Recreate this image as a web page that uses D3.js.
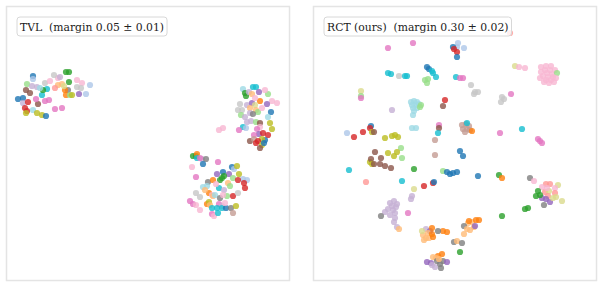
<!DOCTYPE html>
<html>
<head>
<meta charset="utf-8">
<script src="https://cdn.jsdelivr.net/npm/d3@7"></script>
<style>
	body { margin: 0; background: #fff; }
	svg { display: block; }
</style>
</head>
<body>
<svg id="viz-svg" width="602" height="287"></svg>
<script>
// tab20 class colours, points reference them by index
const classColors = [
	'#1f77b4','#aec7e8','#ff7f0e','#ffbb78','#2ca02c','#98df8a','#d62728','#ff9896','#9467bd','#c5b0d5',
	'#8c564b','#c49c94','#e377c2','#f7b6d2','#7f7f7f','#c7c7c7','#bcbd22','#dbdb8d','#17becf','#9edae5'
];

const panelTitles = ['TVL  (margin 0.05 \u00b1 0.01)', 'RCT (ours)  (margin 0.30 \u00b1 0.02)'];

// embedding coordinates [x, y, class]
const tvlPoints = [
	[27,204,0],[27,201,1],[21,196,5],[26,194,9],[31,193,9],[39,197,15],[20,190,10],[24,187,10],[12,181,0],[17,182,0],
	[17,177,9],[22,178,6],[19,172,6],[21,169,6],[20,167,16],[27,170,19],[31,167,16],[36,165,16],[40,164,0],[32,176,10],
	[30,181,12],[39,179,12],[43,180,12],[49,171,12],[56,172,12],[36,185,18],[41,191,18],[37,190,4],[44,199,13],[52,202,13],
	[48,205,15],[60,208,4],[63,208,4],[52,195,3],[56,196,3],[49,192,7],[63,198,4],[62,190,14],[59,190,2],[60,185,2],
	[64,185,5],[71,200,13],[76,197,13],[71,193,15],[75,192,15],[73,186,8],[80,186,1],[84,195,1],[54,203,9],[58,194,17],
	[66,185,16],[34,192,19],
	[237,191,19],[247,193,18],[250,193,18],[239,187,4],[240,184,4],[243,188,9],[246,186,3],[262,186,5],[259,190,13],[253,188,8],
	[254,179,2],[266,179,13],[271,177,13],[261,176,8],[234,176,15],[232,170,15],[236,170,15],[241,175,9],[246,177,8],[249,175,17],
	[250,170,3],[244,172,3],[235,165,5],[252,168,5],[244,167,9],[239,163,9],[241,158,9],[245,159,9],[265,168,0],[262,163,19],
	[247,166,14],[264,157,16],[266,151,16],[250,158,5],[254,157,10],[254,153,13],[237,153,18],[240,152,1],[233,150,12],[251,151,12],
	[213,150,13],[217,152,13],[253,146,8],[257,147,6],[262,145,6],[248,145,12],[259,140,0],[256,141,16],[244,139,10],[248,141,11],
	[250,137,6],[252,139,6],[256,135,16],[258,137,0],[254,132,10],[249,182,13],[256,172,13],
	[187,124,4],[190,124,4],[191,126,2],[191,122,18],[196,121,9],[200,121,14],[194,122,12],[197,116,0],[186,113,13],[212,118,12],
	[190,103,12],[217,108,0],[226,113,0],[228,111,1],[231,114,16],[211,106,8],[223,106,8],[233,106,16],[216,102,4],[214,100,4],
	[218,104,4],[202,98,14],[207,100,2],[227,102,5],[237,101,1],[241,100,1],[232,100,6],[238,97,6],[239,92,6],[222,97,3],
	[224,94,5],[197,93,19],[201,94,19],[190,87,15],[194,83,15],[203,87,2],[206,85,13],[207,84,3],[213,92,18],[209,85,19],
	[218,90,9],[221,84,5],[214,82,14],[227,84,6],[217,85,13],[232,87,15],[184,79,12],[187,76,12],[190,75,13],[201,76,2],
	[203,78,16],[204,75,3],[213,76,12],[216,74,9],[206,72,18],[211,72,18],[216,72,18],[220,72,0],[225,72,14],[230,74,16],
	[194,70,13],[206,66,12],[208,64,13],[212,67,18],[227,67,11],[219,77,13],[199,90,3],[210,96,13]
];

const rctPoints = [
	[197,247,7],[75,232,12],[100,237,12],[145,237,1],[144,233,1],[151,232,1],[140,233,0],[141,231,6],[144,228,6],[144,223,0],
	[75,207,18],[78,206,18],[86,204,15],[92,204,18],[94,204,18],[114,213,0],[116,211,0],[119,209,18],[120,207,18],[123,203,18],
	[112,200,5],[115,201,5],[114,197,5],[143,203,18],[147,202,12],[150,202,12],[158,195,15],[162,188,15],[165,188,15],[161,186,15],
	[189,183,15],[188,178,15],[191,181,15],[198,186,12],[202,214,17],[206,213,13],[212,212,13],
	[228,213,13],[233,214,13],[238,214,13],[232,210,13],[237,210,13],[242,210,13],[228,208,13],[234,207,13],[239,206,13],[244,207,5],
	[230,204,13],[235,203,13],[240,203,13],[227,202,13],[233,200,13],[238,200,13],[243,202,13],[231,198,13],[236,197,13],[241,198,13],
	[48,189,17],[48,184,5],[48,182,12],[79,170,9],
	[98,178,19],[101,179,19],[104,178,19],[99,175,19],[103,175,19],[106,176,19],[100,172,19],[104,172,19],[107,173,5],[108,175,5],[101,169,19],
	[100,165,19],[132,180,6],[130,174,10],[99,152,19],[103,152,19],[126,155,12],[126,152,10],[125,147,18],[122,140,11],[122,125,11],
	[149,155,11],[153,156,11],[156,154,11],[150,151,11],[154,151,11],[157,150,11],[152,148,11],[154,157,18],[159,149,2],
	[187,147,12],[209,151,18],[225,141,12],[227,139,12],[229,137,12],
	[34,147,1],[41,143,6],[50,148,6],[58,154,0],[57,152,6],[59,148,16],[61,148,10],[72,142,16],[79,144,16],[82,145,16],[85,143,16],
	[88,132,5],[89,122,5],[62,128,10],[75,127,16],[84,128,16],[81,124,16],[147,129,0],[150,124,0],
	[57,118,16],[58,121,10],[59,116,16],[68,122,10],[67,116,10],[72,114,10],[78,112,10],[61,116,10],
	[36,110,18],[53,98,7],[89,99,18],[101,91,17],[99,84,9],[98,81,9],
	[77,77,9],[81,79,9],[84,76,9],[79,74,9],[83,73,9],[75,71,9],[80,70,9],[72,68,9],[82,67,9],[77,65,9],[82,62,9],[81,58,9],
	[68,64,14],[95,67,12],[84,53,9],[86,51,3],
	[101,111,4],[130,109,5],[134,108,0],[137,106,0],[140,107,0],[144,108,0],[165,104,0],[186,105,4],[189,102,2],[189,64,4],
	[111,94,6],[120,97,6],[121,98,0],
	[110,45,3],[113,42,3],[116,42,3],[111,40,3],[113,51,9],[117,49,8],[119,52,2],[120,43,2],[109,49,17],[115,47,3],
	[119,46,2],[130,49,2],[134,48,2],[125,49,14],[141,38,14],[144,39,3],[149,37,14],[147,28,4],
	[155,57,3],[159,58,3],[161,53,3],[157,50,3],[151,46,3],[163,60,2],[166,60,2],[156,59,2],[151,54,14],[162,54,8],[154,51,3],
	[125,24,2],[129,26,2],[120,23,3],[123,22,3],[114,18,8],[118,17,8],[122,13,9],[124,19,14],[130,19,14],[127,16,14],
	[128,12,14],[134,18,8],[119,15,9],[126,21,3],
	[217,102,14],[221,99,13],[233,96,7],[237,96,7],[245,95,17],[229,93,13],[242,92,13],[225,89,4],[223,84,4],[232,88,7],
	[242,87,7],[236,89,17],[235,84,7],[229,82,8],[233,81,8],[237,78,8],[240,82,17],[243,83,17],[249,79,17],[231,75,14],
	[215,72,4],[212,71,4],[227,85,4],[234,92,13]
];

const svg = d3.select("#viz-svg");

const panelWidth = 283;
const panelHeight = 274;
const panelTop = 6;
const panelLefts = [6, 313];

function drawPanel(left, points, title) {
	const scaleX = d3.scaleLinear()
		.domain([0, panelWidth])
		.range([left, left + panelWidth]);

	const scaleY = d3.scaleLinear()
		.domain([0, panelHeight])
		.range([panelTop + panelHeight, panelTop]);

	const g = svg.append("g");

	g.append("rect")
		.attr("x", left + 0.5)
		.attr("y", panelTop + 0.5)
		.attr("width", panelWidth)
		.attr("height", panelHeight)
		.attr("fill", "#fff")
		.attr("stroke", "#e4e4e4")
		.attr("stroke-width", 1.5);

	g.selectAll("circle")
		.data(points)
		.enter()
		.append("circle")
		.attr("cx", d => scaleX(d[0]))
		.attr("cy", d => scaleY(d[1]))
		.attr("r", 3.1)
		.attr("fill", d => classColors[d[2]])
		.attr("fill-opacity", 0.8);

	// title box, sized to its text
	const box = g.append("rect")
		.attr("rx", 3)
		.attr("fill", "#fff")
		.attr("fill-opacity", 0.8)
		.attr("stroke", "#d8d8d8");

	const text = g.append("text")
		.attr("x", left + 14)
		.attr("y", 31)
		.attr("font-family", "DejaVu Serif")
		.attr("font-size", 10.8)
		.attr("fill", "#222")
		.attr("xml:space", "preserve")
		.style("white-space", "pre")
		.text(title);

	const w = text.node().getComputedTextLength();
	box.attr("x", left + 11)
		.attr("y", 17)
		.attr("width", w + 6)
		.attr("height", 19);
}

panelLefts.forEach((left, i) => {
	drawPanel(left, i === 0 ? tvlPoints : rctPoints, panelTitles[i]);
});
</script>
</body>
</html>
